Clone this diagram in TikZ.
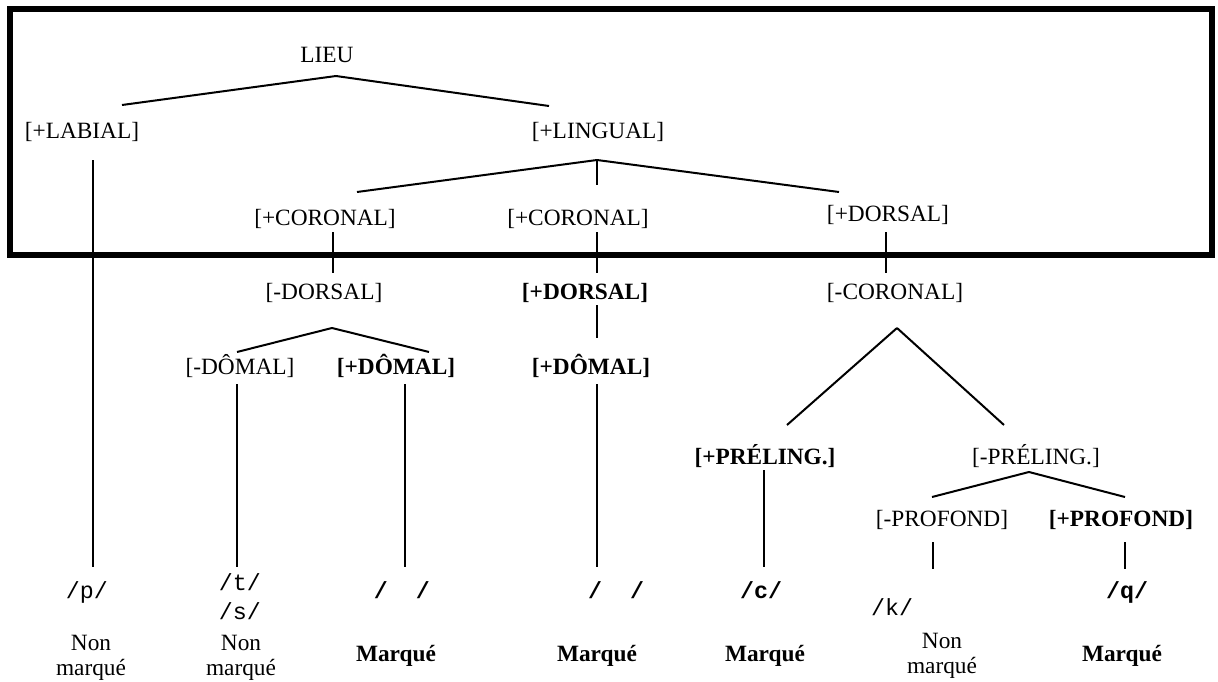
\documentclass[tikz,border=0pt]{standalone}
\usepackage{fontspec}
\setmainfont{Liberation Serif}
\setmonofont{Liberation Mono}
\usepackage{tikz}
\usetikzlibrary{calc}

\begin{document}
\begin{tikzpicture}[x=0.75pt, y=-0.75pt,
        feat_style/.style={anchor=base, inner sep=0pt, font=\fontsize{17.5}{18.75}\selectfont},
        plus_style/.style={anchor=base, inner sep=0pt, font=\fontsize{17.5}{18.75}\selectfont\bfseries},
        phon_style/.style={anchor=base, inner sep=0pt, font=\fontsize{17.5}{18.75}\selectfont\ttfamily},
        phonb_style/.style={anchor=base, inner sep=0pt, font=\fontsize{17.5}{18.75}\selectfont\ttfamily\bfseries},
        mark_style/.style={anchor=north, inner sep=0pt, align=center, font=\fontsize{17.5}{18.75}\selectfont},
        edge_style/.style={draw=black, line width=1.5pt, -},
        frame_style/.style={draw=black, line width=4.5pt}]

        \useasboundingbox (0,0) rectangle (1218,682);
        \draw [frame_style] (10,9) rectangle (1212,255);

        % features
        \node [feat_style](lieu) at (327,62) {LIEU};
        \node [feat_style](labial) at (82,138) {[+LABIAL]};
        \node [feat_style](lingual) at (598,138) {[+LINGUAL]};
        \node [feat_style](corA) at (325,225) {[+CORONAL]};
        \node [feat_style](corB) at (578,225) {[+CORONAL]};
        \node [feat_style](dorsC) at (888,221) {[+DORSAL]};
        \node [feat_style](mdorsA) at (324,299) {[-DORSAL]};
        \node [plus_style](pdorsB) at (585,299) {[+DORSAL]};
        \node [feat_style](mcorC) at (895,299) {[-CORONAL]};
        \node [feat_style](mdomA) at (240,374) {[-DÔMAL]};
        \node [plus_style](pdomA) at (396,374) {[+DÔMAL]};
        \node [plus_style](pdomB) at (591,374) {[+DÔMAL]};
        \node [plus_style](pprel) at (765,464) {[+PRÉLING.]};
        \node [feat_style](mprel) at (1036,464) {[-PRÉLING.]};
        \node [feat_style](mprof) at (942,526) {[-PROFOND]};
        \node [plus_style](pprof) at (1121,526) {[+PROFOND]};

        % phonemes
        \node [phon_style](p) at (87,598) {/p/};
        \node [phon_style](t) at (240,590) {/t/};
        \node [phon_style](s) at (240,619) {/s/};
        \node [phonb_style](gapA) at (402,598) {/\ \ /};
        \node [phonb_style](gapB) at (616,598) {/\ \ /};
        \node [phonb_style](c) at (761,598) {/c/};
        \node [phon_style](k) at (892,615) {/k/};
        \node [phonb_style](q) at (1127,598) {/q/};

        % marking
        \node [mark_style](nm1) at (91,635) {Non\\marqué};
        \node [mark_style](nm2) at (241,635) {Non\\marqué};
        \node [plus_style](m1) at (396,661) {Marqué};
        \node [plus_style](m2) at (597,661) {Marqué};
        \node [plus_style](m3) at (765,661) {Marqué};
        \node [mark_style](nm3) at (942,633) {Non\\marqué};
        \node [plus_style](m4) at (1122,661) {Marqué};

        % branch points
        \coordinate (lieu_j) at (336,76);
        \coordinate (labial_t) at (122,105);
        \coordinate (lingual_t) at (549,106);
        \coordinate (lingual_j) at (597,160);
        \coordinate (corA_t) at (357,192);
        \coordinate (corB_t) at (597,185);
        \coordinate (dorsC_t) at (839,192);
        \coordinate (labial_b) at (93,160);
        \coordinate (p_t) at (93,567);
        \coordinate (corA_b) at (333,232);
        \coordinate (mdorsA_t) at (333,273);
        \coordinate (corB_b) at (597,232);
        \coordinate (pdorsB_t) at (597,273);
        \coordinate (dorsC_b) at (886,232);
        \coordinate (mcorC_t) at (886,273);
        \coordinate (pdorsB_b) at (597,305);
        \coordinate (pdomB_t) at (597,338);
        \coordinate (mdorsA_j) at (332,328);
        \coordinate (mdomA_t) at (237,352);
        \coordinate (pdomA_t) at (429,352);
        \coordinate (mdomA_b) at (237,384);
        \coordinate (t_t) at (237,567);
        \coordinate (pdomA_b) at (405,384);
        \coordinate (gapA_t) at (405,567);
        \coordinate (pdomB_b) at (597,384);
        \coordinate (gapB_t) at (597,567);
        \coordinate (mcorC_j) at (897,328);
        \coordinate (pprel_t) at (787,425);
        \coordinate (mprel_t) at (1004,425);
        \coordinate (pprel_b) at (764,470);
        \coordinate (c_t) at (764,567);
        \coordinate (mprel_j) at (1029,472);
        \coordinate (mprof_t) at (932,497);
        \coordinate (pprof_t) at (1125,497);
        \coordinate (mprof_b) at (933,542);
        \coordinate (k_t) at (933,569);
        \coordinate (pprof_b) at (1125,542);
        \coordinate (q_t) at (1125,569);

        \draw [edge_style] (lieu_j) -- (labial_t);
        \draw [edge_style] (lieu_j) -- (lingual_t);
        \draw [edge_style] (lingual_j) -- (corA_t);
        \draw [edge_style] (lingual_j) -- (corB_t);
        \draw [edge_style] (lingual_j) -- (dorsC_t);
        \draw [edge_style] (labial_b) -- (p_t);
        \draw [edge_style] (corA_b) -- (mdorsA_t);
        \draw [edge_style] (corB_b) -- (pdorsB_t);
        \draw [edge_style] (dorsC_b) -- (mcorC_t);
        \draw [edge_style] (pdorsB_b) -- (pdomB_t);
        \draw [edge_style] (mdorsA_j) -- (mdomA_t);
        \draw [edge_style] (mdorsA_j) -- (pdomA_t);
        \draw [edge_style] (mdomA_b) -- (t_t);
        \draw [edge_style] (pdomA_b) -- (gapA_t);
        \draw [edge_style] (pdomB_b) -- (gapB_t);
        \draw [edge_style] (mcorC_j) -- (pprel_t);
        \draw [edge_style] (mcorC_j) -- (mprel_t);
        \draw [edge_style] (pprel_b) -- (c_t);
        \draw [edge_style] (mprel_j) -- (mprof_t);
        \draw [edge_style] (mprel_j) -- (pprof_t);
        \draw [edge_style] (mprof_b) -- (k_t);
        \draw [edge_style] (pprof_b) -- (q_t);
\end{tikzpicture}
\end{document}
